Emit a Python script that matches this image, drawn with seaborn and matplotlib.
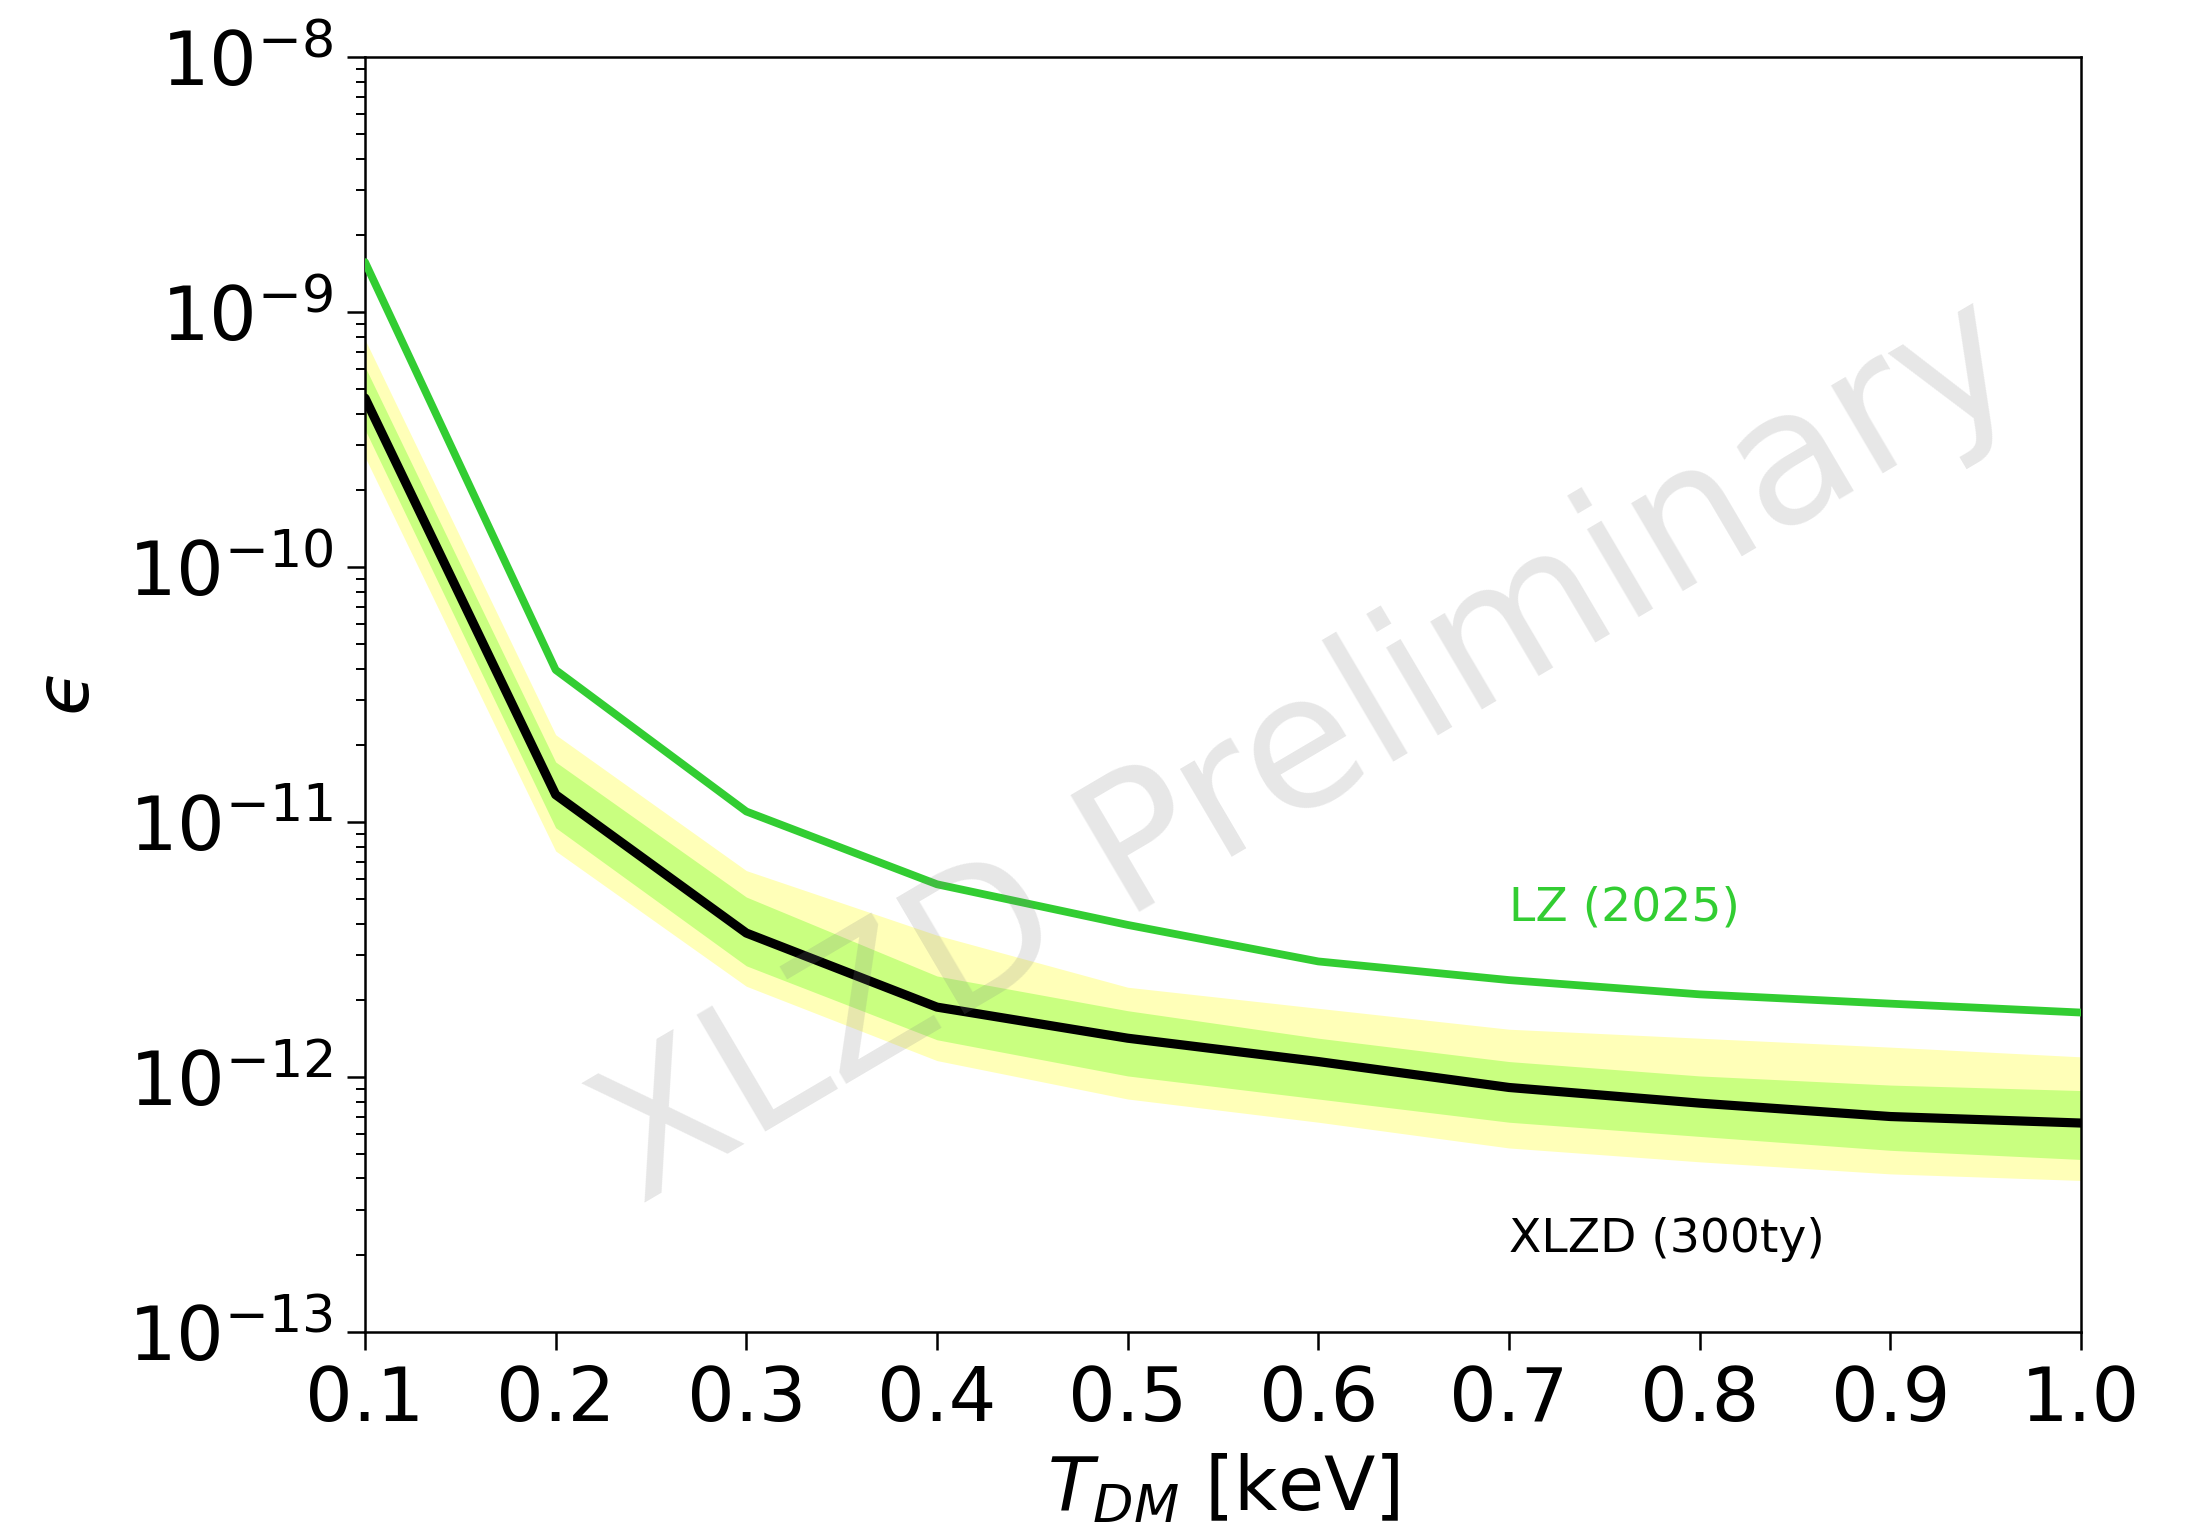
import numpy as np
import pandas as pd
import matplotlib
matplotlib.use("Agg")
import matplotlib.pyplot as plt
import seaborn as sns

# ---- data ----
T_DM = [0.1, 0.2, 0.3, 0.4, 0.5, 0.6, 0.7, 0.8, 0.9, 1.0]
lz_2025 = [1.57e-9, 3.95e-11, 1.10e-11, 5.7e-12, 3.95e-12, 2.84e-12, 2.40e-12, 2.11e-12, 1.94e-12, 1.79e-12]
xlzd_median = [4.6e-10, 1.28e-11, 3.67e-12, 1.88e-12, 1.42e-12, 1.15e-12, 9.1e-13, 7.9e-13, 7.0e-13, 6.6e-13]
xlzd_1s_hi = [6.1e-10, 1.72e-11, 5.08e-12, 2.49e-12, 1.82e-12, 1.42e-12, 1.15e-12, 1.01e-12, 9.3e-13, 8.85e-13]
xlzd_1s_lo = [3.46e-10, 9.5e-12, 2.73e-12, 1.40e-12, 1.01e-12, 8.2e-13, 6.65e-13, 5.85e-13, 5.16e-13, 4.75e-13]
xlzd_2s_hi = [7.8e-10, 2.2e-11, 6.45e-12, 3.6e-12, 2.25e-12, 1.86e-12, 1.54e-12, 1.42e-12, 1.31e-12, 1.20e-12]
xlzd_2s_lo = [2.7e-10, 7.7e-12, 2.27e-12, 1.16e-12, 8.2e-13, 6.65e-13, 5.27e-13, 4.65e-13, 4.17e-13, 3.93e-13]

label_lz = "LZ (2025)"
label_xlzd = "XLZD (300ty)"
watermark = "XLZD Preliminary"

sns.set_theme(style="ticks")
plt.rcParams['font.family'] = ['DejaVu Sans']
plt.rcParams['mathtext.fontset'] = 'dejavusans'
plt.rcParams['text.color'] = 'black'
plt.rcParams['axes.labelcolor'] = 'black'
plt.rcParams['xtick.color'] = 'black'
plt.rcParams['ytick.color'] = 'black'

fig = plt.figure(figsize=(10.935, 7.65), dpi=200)
ax = fig.add_axes([0.1669, 0.1294, 0.7846, 0.8333])

df = pd.DataFrame({"T": T_DM, "lz": lz_2025, "med": xlzd_median})

ax.fill_between(T_DM, xlzd_2s_lo, xlzd_2s_hi, color="#ffffb8", lw=0, zorder=1)
ax.fill_between(T_DM, xlzd_1s_lo, xlzd_1s_hi, color="#c9ff80", lw=0, zorder=2)
sns.lineplot(data=df, x="T", y="med", ax=ax, color="black", lw=3.3, zorder=4)
sns.lineplot(data=df, x="T", y="lz", ax=ax, color="#32cd32", lw=2.8, zorder=3)

ax.set_yscale("log")
ax.set_xlim(0.1, 1.0)
ax.set_ylim(1e-13, 1e-8)
ax.set_xticks(T_DM)
ax.set_xticklabels([f"{v:.1f}" for v in T_DM])

ax.text(0.7, 4.6e-12, label_lz, color="#32cd32", fontsize=17, ha="left", va="center", zorder=5)
ax.text(0.7, 2.3e-13, label_xlzd, color="black", fontsize=17, ha="left", va="center", zorder=5)

ax.text(0.55, 0.455, watermark, transform=ax.transAxes, fontsize=67, color="gray",
        alpha=0.19, rotation=30.5, ha="center", va="center", zorder=6)

ax.set_xlabel(r"$T_{DM}$ [keV]", fontsize=27, labelpad=6, color="black")
ax.set_ylabel("$\u03f5$", fontsize=27, labelpad=8, color="black")

for s in ax.spines.values():
    s.set_linewidth(0.9)
    s.set_color("black")
    s.set_visible(True)
ax.tick_params(axis="both", which="major", labelsize=27, length=6.5, width=0.9, pad=5,
               color="black", labelcolor="black")
ax.tick_params(axis="y", which="minor", length=3.3, width=0.7, color="black")
ax.tick_params(axis="x", which="minor", length=0)
ax.set_facecolor("white")
fig.patch.set_facecolor("white")

fig.savefig("out.png", dpi=200)
